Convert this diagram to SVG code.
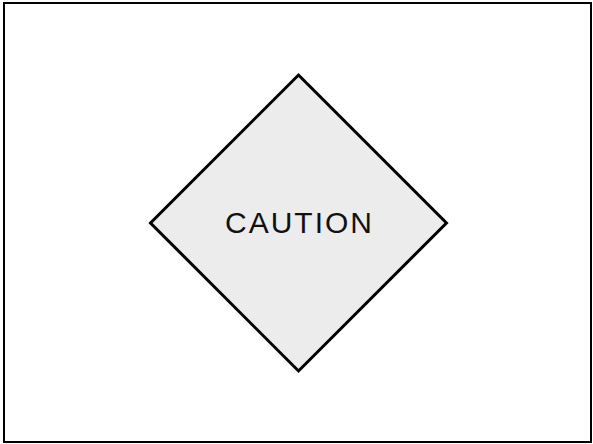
<svg xmlns="http://www.w3.org/2000/svg" width="593" height="444" viewBox="0 0 593 444">
<style>
.frame{fill:#fff;stroke:#000;stroke-width:2}
.dia{fill:#ececec;stroke:#000;stroke-width:3;stroke-linejoin:miter}
.lbl{font-family:"Liberation Sans",Arial,sans-serif;font-size:30px;letter-spacing:2px;fill:#111;text-anchor:middle}
</style>
<rect class="frame" x="4" y="3" width="587" height="439"/>
<g id="caution">
<polygon class="dia" points="298.5,75 446.5,223 298.5,371 150.5,223"/>
<text class="lbl" x="299.5" y="233.3">CAUTION</text>
</g>
</svg>
